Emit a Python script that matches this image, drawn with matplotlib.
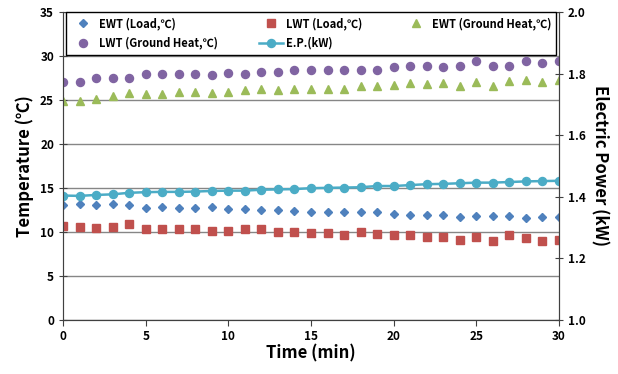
import numpy as np
import matplotlib.pyplot as plt

plt.rcParams['font.family'] = ['Noto Sans CJK KR', 'DejaVu Sans']

# 데이터
time = np.arange(0, 31)
ewt_load = [13.07, 13.18, 13.07, 13.14, 13.07, 12.77, 12.84, 12.77, 12.77, 12.84,
            12.61, 12.61, 12.50, 12.46, 12.42, 12.31, 12.27, 12.23, 12.23, 12.23,
            12.05, 11.93, 11.93, 11.93, 11.67, 11.82, 11.82, 11.82, 11.55, 11.67, 11.67]
lwt_load = [10.68, 10.53, 10.42, 10.53, 10.87, 10.30, 10.34, 10.38, 10.34, 10.08,
            10.11, 10.30, 10.34, 10.04, 9.96, 9.92, 9.89, 9.66, 9.96, 9.81,
            9.66, 9.70, 9.47, 9.47, 9.09, 9.47, 8.98, 9.66, 9.28, 9.02, 9.09]
ewt_ground = [24.9, 24.85, 25.1, 25.4, 25.8, 25.65, 25.7, 25.9, 25.9, 25.8,
              25.9, 26.1, 26.25, 26.1, 26.25, 26.3, 26.3, 26.3, 26.6, 26.6,
              26.7, 26.9, 26.8, 26.9, 26.6, 27.1, 26.6, 27.2, 27.3, 27.1, 27.3]
lwt_ground = [27.1, 27.0, 27.5, 27.5, 27.5, 28.0, 27.9, 28.0, 28.0, 27.8,
              28.1, 28.0, 28.2, 28.2, 28.4, 28.4, 28.4, 28.4, 28.4, 28.4,
              28.7, 28.9, 28.9, 28.8, 28.9, 29.4, 28.9, 28.9, 29.4, 29.2, 29.4]
power = [1.404, 1.403, 1.406, 1.408, 1.413, 1.415, 1.416, 1.416, 1.417, 1.419,
         1.420, 1.420, 1.423, 1.424, 1.425, 1.428, 1.429, 1.430, 1.431, 1.435,
         1.435, 1.438, 1.441, 1.442, 1.444, 1.446, 1.446, 1.448, 1.450, 1.451, 1.452]

fig = plt.figure(figsize=(6.18, 3.74), dpi=100)
ax = fig.add_axes([0.102, 0.1444, 0.8025, 0.8235])
ax2 = ax.twinx()

# 온도 (왼쪽 축)
h1, = ax.plot(time, ewt_load, 'D', color='#4F81BD', markersize=4.4, label='EWT (Load,℃)')
h2, = ax.plot(time, lwt_load, 's', color='#C0504D', markersize=5.2, label='LWT (Load,℃)')
h3, = ax.plot(time, ewt_ground, '^', color='#9BBB59', markersize=5.8, label='EWT (Ground Heat,℃)')
h4, = ax.plot(time, lwt_ground, 'o', color='#8064A2', markersize=5.8, label='LWT (Ground Heat,℃)')

# 전력 (오른쪽 축)
h5, = ax2.plot(time, power, '-o', color='#4BACC6', markersize=5.8, linewidth=1.8,
               label='E.P.(kW)')

ax.set_xlim(0, 30)
ax.set_ylim(0, 35)
ax2.set_ylim(1.0, 2.0)
ax.set_xticks(range(0, 31, 5))
ax.set_yticks(range(0, 36, 5))
ax2.set_yticks(np.arange(1.0, 2.01, 0.2))
ax2.set_yticklabels(['%.1f' % v for v in np.arange(1.0, 2.01, 0.2)])

ax.yaxis.grid(True, color='#868686', linewidth=1)
ax.set_axisbelow(True)

for a in (ax, ax2):
    for s in a.spines.values():
        s.set_color('#404040')
ax.spines['left'].set_color('#868686')
ax.spines['top'].set_visible(False)
ax2.spines['top'].set_visible(False)

ax.tick_params(axis='y', direction='inout', length=6, labelsize=8.5, colors='#404040', labelcolor='black')
ax.tick_params(axis='x', direction='out', length=4, labelsize=8.5, colors='#404040', labelcolor='black')
ax2.tick_params(axis='y', direction='inout', length=6, labelsize=8.5, colors='#404040', labelcolor='black')
for lab in ax.get_xticklabels() + ax.get_yticklabels() + ax2.get_yticklabels():
    lab.set_fontweight('bold')

ax.set_xlabel('Time (min)', fontsize=12, fontweight='bold', labelpad=1)
ax.set_ylabel('Temperature (℃)', fontsize=12, fontweight='bold', labelpad=4)
ax2.set_ylabel('Electric Power (kW)', fontsize=12, fontweight='bold', rotation=270, labelpad=16)

handles = [h1, h4, h2, h5, h3]
leg = ax2.legend(handles, [h.get_label() for h in handles], ncol=3, mode='expand',
                 loc='upper left', bbox_to_anchor=(0.006, 1.0, 0.988, 0.0),
                 fancybox=False, edgecolor='black', framealpha=1,
                 prop={'size': 8, 'weight': 'bold'}, handlelength=2.2,
                 handletextpad=0.3, borderpad=0.45, labelspacing=0.6, borderaxespad=0.0)
leg.get_frame().set_linewidth(1.0)

fig.savefig('out.png', dpi=100)
